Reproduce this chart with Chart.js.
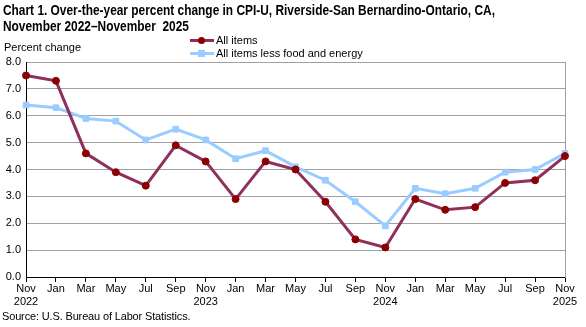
<!DOCTYPE html>
<html>
<head>
<meta charset="utf-8">
<script src="https://cdn.jsdelivr.net/npm/chart.js@4.4.1/dist/chart.umd.min.js"></script>
<style>
    body { margin: 0; background: #fff; font-family: 'Liberation Sans', Arial, sans-serif; color: #000; }
    #wrap { position: relative; width: 586px; height: 327px; }
    #grafico { position: absolute; left: 0; top: 0; }
    .titulo { position: absolute; left: 3px; top: 2px; font-size: 14px; font-weight: bold; line-height: 16px; white-space: nowrap; transform: scaleX(0.85); transform-origin: left top; }
    .eje { position: absolute; left: 4px; top: 41px; font-size: 11px; }
    .fuente { position: absolute; left: 2px; top: 310px; font-size: 11px; letter-spacing: -0.15px; }
    .leyenda { position: absolute; left: 190px; font-size: 11px; line-height: 13px; }
    .leyenda span.linea { display: inline-block; position: relative; width: 24px; height: 3px; vertical-align: middle; margin-right: 2px; top: -1px; }
    .leyenda span.marca { position: absolute; left: 8px; }
</style>
</head>
<body>
<div id="wrap">
    <canvas id="grafico" width="586" height="327"></canvas>
    <div class="titulo">Chart 1. Over-the-year percent change in CPI-U, Riverside-San Bernardino-Ontario, CA,<br>November 2022&ndash;November&nbsp; 2025</div>
    <div class="eje">Percent change</div>
    <div class="leyenda" style="top:34px"><span class="linea" style="background:#8e2f5c"><span class="marca" style="width:7px;height:7px;border-radius:50%;background:#8b0000;top:-2px"></span></span>All items</div>
    <div class="leyenda" style="top:47px"><span class="linea" style="background:#99ccff"><span class="marca" style="width:7px;height:7px;background:#99ccff;top:-2px"></span></span>All items less food and energy</div>
    <div class="fuente">Source: U.S. Bureau of Labor Statistics.</div>
</div>
<script>
var meses = [
    ['Nov', '2022'], 'Jan', 'Mar', 'May', 'Jul', 'Sep',
    ['Nov', '2023'], 'Jan', 'Mar', 'May', 'Jul', 'Sep',
    ['Nov', '2024'], 'Jan', 'Mar', 'May', 'Jul', 'Sep',
    ['Nov', '2025']
];
var todosLosArticulos = [7.5, 7.3, 4.6, 3.9, 3.4, 4.9, 4.3, 2.9, 4.3, 4.0, 2.8, 1.4, 1.1, 2.9, 2.5, 2.6, 3.5, 3.6, 4.5];
var sinAlimentosEnergia = [6.4, 6.3, 5.9, 5.8, 5.1, 5.5, 5.1, 4.4, 4.7, 4.1, 3.6, 2.8, 1.9, 3.3, 3.1, 3.3, 3.9, 4.0, 4.6];

var fuente = { family: "'Liberation Sans', Arial, sans-serif", size: 11 };

var controlLinea = document.getElementById('grafico');
var graficoLinea = new Chart(controlLinea, {
    type: 'line',
    data: {
        labels: meses,
        datasets: [{
            label: 'All items',
            data: todosLosArticulos,
            borderColor: '#8e2f5c',
            backgroundColor: '#8b0000',
            borderWidth: 3,
            pointStyle: 'circle',
            pointRadius: 3.5,
            pointBackgroundColor: '#8b0000',
            pointBorderColor: '#8b0000',
            pointBorderWidth: 1,
            tension: 0
        }, {
            label: 'All items less food and energy',
            data: sinAlimentosEnergia,
            borderColor: '#99ccff',
            backgroundColor: '#99ccff',
            borderWidth: 3,
            pointStyle: 'rect',
            pointRadius: 4,
            pointBackgroundColor: '#99ccff',
            pointBorderColor: '#99ccff',
            pointBorderWidth: 1,
            tension: 0
        }]
    },
    options: {
        responsive: false,
        animation: false,
        layout: { padding: { top: 62, right: 21, bottom: 0, left: 0 } },
        plugins: {
            legend: { display: false },
            title: { display: false },
            tooltip: { enabled: false }
        },
        scales: {
            x: {
                offset: false,
                grid: { drawOnChartArea: false, drawTicks: true, tickLength: 5, color: '#000' },
                border: { color: '#000', width: 1 },
                ticks: { color: '#000', font: fuente, padding: 0, maxRotation: 0, autoSkip: false },
                afterFit: function (eje) { eje.height = 50; }
            },
            y: {
                min: 0,
                max: 8,
                grid: { color: '#a0a0a0', drawTicks: false },
                border: { color: '#000', width: 1 },
                ticks: {
                    stepSize: 1,
                    color: '#000',
                    font: fuente,
                    padding: 5,
                    callback: function (valor) { return valor.toFixed(1); }
                },
                afterFit: function (eje) { eje.width = 26; }
            },
            y2: {
                position: 'right',
                min: 0,
                max: 8,
                grid: { drawOnChartArea: false, drawTicks: false },
                border: { color: '#a0a0a0', width: 1 },
                ticks: { display: false },
                afterFit: function (eje) { eje.width = 0; }
            }
        }
    }
});
</script>
</body>
</html>
